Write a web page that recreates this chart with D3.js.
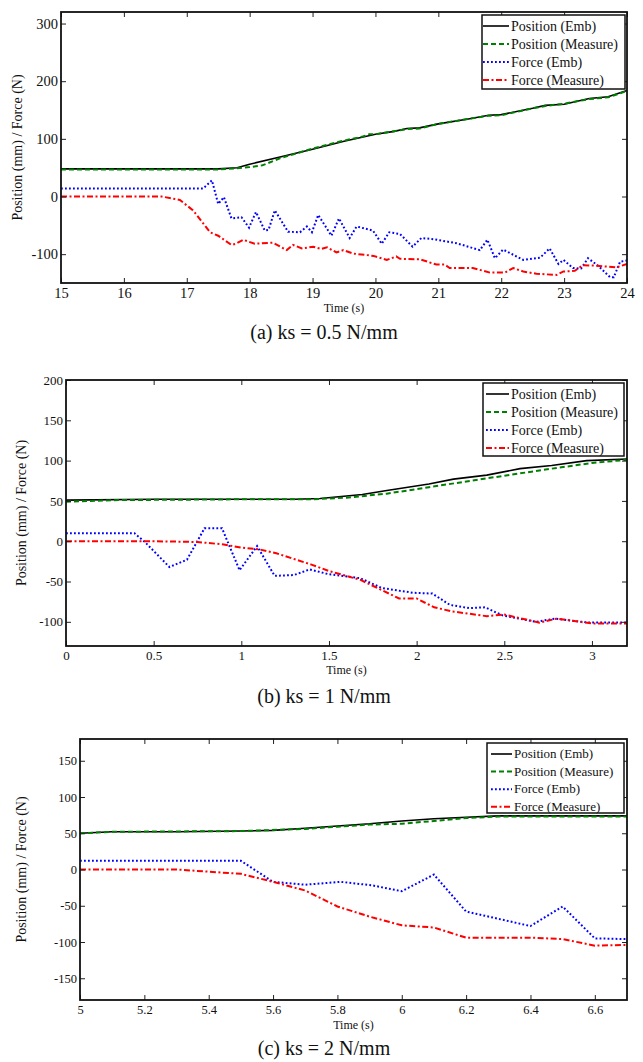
<!DOCTYPE html>
<html>
<head>
<meta charset="utf-8">
<script src="https://cdn.jsdelivr.net/npm/d3@7"></script>
<style>
    body { margin: 0; background: #fff; }
    text { font-family: "Liberation Serif", "DejaVu Serif", serif; fill: #111; }
</style>
</head>
<body>
<div id="chart"></div>
<script>
// (a) ks = 0.5 N/mm
let aPosEmb = [[15,48],[17.5,48],[17.8,50],[18,56],[18.5,69],[19,82],[19.5,96],[20,108],[20.3,113],[20.5,118],[20.7,119],[21,126],[21.5,135],[21.8,141],[22,142],[22.5,153],[22.7,158],[23,160],[23.4,170],[23.7,173],[24,184]];
let aPosMeas = [[15,47],[17.5,47],[17.8,49],[18,51],[18.2,54],[18.5,67],[19,83],[19.5,97],[19.8,104],[19.9,108],[20,108],[20.5,117],[20.7,118],[21,126],[21.5,135],[21.8,140],[22,141],[22.5,153],[22.7,157],[23,161],[23.4,169],[23.7,172],[24,183]];
let aForceEmb = [[15,14],[17.26,14],[17.4,28],[17.5,-13],[17.59,-1],[17.71,-38],[17.87,-36],[17.99,-54],[18.1,-27],[18.24,-59],[18.3,-58],[18.4,-24],[18.61,-61],[18.8,-62],[18.91,-52],[18.99,-62],[19.09,-32],[19.3,-68],[19.42,-38],[19.59,-72],[19.7,-52],[19.96,-59],[20.1,-82],[20.22,-62],[20.39,-65],[20.59,-87],[20.73,-72],[20.92,-74],[21.29,-81],[21.66,-93],[21.78,-75],[21.9,-107],[22.03,-92],[22.35,-110],[22.62,-106],[22.77,-90],[22.91,-117],[22.99,-110],[23.14,-124],[23.27,-125],[23.38,-107],[23.54,-120],[23.73,-140],[23.79,-140],[23.89,-113],[24,-111]];
let aForceMeas = [[15,0],[16.6,0],[16.89,-6],[17.1,-24],[17.37,-62],[17.5,-68],[17.71,-84],[17.78,-82],[17.9,-75],[18.08,-82],[18.37,-80],[18.59,-93],[18.69,-84],[18.83,-90],[19.01,-87],[19.14,-91],[19.23,-88],[19.38,-97],[19.49,-93],[19.65,-99],[19.97,-103],[20.18,-110],[20.33,-104],[20.39,-108],[20.71,-109],[20.97,-118],[21.1,-118],[21.18,-124],[21.55,-124],[21.82,-132],[22.06,-132],[22.19,-124],[22.35,-130],[22.56,-134],[22.88,-136],[22.99,-130],[23.17,-129],[23.3,-119],[23.51,-120],[23.83,-123],[24,-117]];
let aXTicks = [15,16,17,18,19,20,21,22,23,24];
let aYTicks = [300,200,100,0,-100];

// (b) ks = 1 N/mm
let bPosEmb = [[0,51],[0.5,52],[1,52],[1.3,52],[1.45,53],[1.69,58],[1.83,63],[2.07,71],[2.21,77],[2.4,82],[2.59,90],[2.77,94],[2.97,100],[3.2,102]];
let bPosMeas = [[0,49],[0.3,51],[1,52],[1.4,52],[1.6,54],[1.83,59],[2.07,67],[2.4,78],[2.77,90],[3,97],[3.2,101]];
let bForceEmb = [[0,10],[0.39,10],[0.45,-1],[0.59,-32],[0.69,-23],[0.79,16],[0.89,16],[0.99,-36],[1.09,-6],[1.19,-43],[1.3,-42],[1.39,-35],[1.5,-41],[1.68,-46],[1.8,-58],[1.98,-64],[2.09,-65],[2.19,-79],[2.3,-83],[2.39,-82],[2.49,-92],[2.68,-100],[2.79,-96],[2.98,-101],[3.2,-101]];
let bForceMeas = [[0,0],[0.5,0],[0.75,-1],[0.9,-4],[1,-8],[1.1,-10],[1.2,-15],[1.4,-29],[1.5,-37],[1.68,-48],[1.9,-71],[2,-71],[2.1,-82],[2.2,-87],[2.4,-93],[2.5,-91],[2.7,-101],[2.8,-96],[3,-102],[3.2,-102]];
let bXTicks = [0,0.5,1,1.5,2,2.5,3];
let bYTicks = [200,150,100,50,0,-50,-100];

// (c) ks = 2 N/mm
let cPosEmb = [[5,50],[5.1,52],[5.3,52],[5.5,53],[5.6,54],[5.7,57],[5.8,60],[5.9,63],[6,67],[6.1,70],[6.2,72],[6.3,74],[6.7,74]];
let cPosMeas = [[5,50],[5.1,52],[5.5,53],[5.7,56],[5.8,59],[5.9,62],[6,63],[6.1,67],[6.2,71],[6.3,73],[6.7,73]];
let cForceEmb = [[5,12],[5.5,12],[5.6,-17],[5.7,-21],[5.81,-17],[5.91,-22],[6,-30],[6.1,-7],[6.2,-58],[6.4,-78],[6.5,-51],[6.6,-95],[6.7,-96]];
let cForceMeas = [[5,0],[5.3,0],[5.5,-6],[5.6,-17],[5.7,-29],[5.8,-51],[5.9,-65],[6,-77],[6.1,-80],[6.2,-94],[6.4,-94],[6.5,-96],[6.6,-105],[6.7,-104]];
let cXTicks = [5,5.2,5.4,5.6,5.8,6,6.2,6.4,6.6];
let cYTicks = [150,100,50,0,-50,-100,-150];

let seriesNames = ["Position (Emb)", "Position (Measure)", "Force (Emb)", "Force (Measure)"];
let captions = ["(a) ks = 0.5 N/mm", "(b) ks = 1 N/mm", "(c) ks = 2 N/mm"];

let width = 643,
    height = 1062;

let styles = [
    { color: "#000000", dash: null, w: 1.6 },
    { color: "#008000", dash: "5,3", w: 2 },
    { color: "#0000ff", dash: "1.8,2.2", w: 2 },
    { color: "#ff0000", dash: "6,2.5,2,2.5", w: 2 }
];

let panels = [
    { series: [aPosEmb, aPosMeas, aForceEmb, aForceMeas], xTicks: aXTicks, yTicks: aYTicks,
      xDomain: [15, 24], yDomain: [-150, 320], left: 61, right: 627, top: 12, bottom: 283,
      fs: 14.5, legend: { x0: 482, x1: 625, y0: 15, y1: 89, line0: 483, line1: 509, text: 511, rows: 18, fs: 14 },
      timeY: 312, capY: 339, labelX: 22 },
    { series: [bPosEmb, bPosMeas, bForceEmb, bForceMeas], xTicks: bXTicks, yTicks: bYTicks,
      xDomain: [0, 3.2], yDomain: [-130, 200], left: 66, right: 627, top: 380, bottom: 646,
      fs: 13, legend: { x0: 483, x1: 624, y0: 383, y1: 456, line0: 486, line1: 509, text: 511, rows: 18, fs: 14 },
      timeY: 674, capY: 703, labelX: 26 },
    { series: [cPosEmb, cPosMeas, cForceEmb, cForceMeas], xTicks: cXTicks, yTicks: cYTicks,
      xDomain: [5, 6.7], yDomain: [-180, 180], left: 80, right: 627, top: 739, bottom: 1000,
      fs: 12.5, legend: { x0: 487, x1: 624, y0: 743, y1: 813, line0: 491, line1: 512, text: 514, rows: 17.6, fs: 13 },
      timeY: 1029, capY: 1055, labelX: 26 }
];

let svg = d3.select("#chart")
    .append("svg")
    .attr("width", width)
    .attr("height", height);

svg.append("rect").attr("width", width).attr("height", height).attr("fill", "#fff");

panels.forEach(function (p, i) {
    drawPanel(p, captions[i]);
});

function drawPanel(p, caption) {
    let x = d3.scaleLinear().domain(p.xDomain).range([p.left, p.right]);
    let y = d3.scaleLinear().domain(p.yDomain).range([p.bottom, p.top]);
    let fmt = function (d) { return String(d); };
    let g = svg.append("g");

    // lines
    let line = d3.line()
        .x(function (d) { return x(d[0]); })
        .y(function (d) { return y(d[1]); });

    p.series.forEach(function (s, k) {
        g.append("path")
            .datum(s)
            .attr("d", line)
            .attr("fill", "none")
            .attr("stroke", styles[k].color)
            .attr("stroke-width", styles[k].w)
            .attr("stroke-dasharray", styles[k].dash);
    });

    // axes, ticks inside on all four sides
    let bottomAxis = g.append("g")
        .attr("transform", "translate(0," + p.bottom + ")")
        .call(d3.axisBottom(x).tickValues(p.xTicks).tickSize(-5).tickPadding(5).tickFormat(fmt));
    let topAxis = g.append("g")
        .attr("transform", "translate(0," + p.top + ")")
        .call(d3.axisTop(x).tickValues(p.xTicks).tickSize(-5).tickFormat(""));
    let leftAxis = g.append("g")
        .attr("transform", "translate(" + p.left + ",0)")
        .call(d3.axisLeft(y).tickValues(p.yTicks).tickSize(-5).tickPadding(3).tickFormat(fmt));
    let rightAxis = g.append("g")
        .attr("transform", "translate(" + p.right + ",0)")
        .call(d3.axisRight(y).tickValues(p.yTicks).tickSize(-5).tickFormat(""));

    [bottomAxis, topAxis, leftAxis, rightAxis].forEach(function (a) {
        a.select(".domain").remove();
        a.selectAll(".tick line").attr("stroke", "#222").attr("stroke-width", 1);
        a.selectAll(".tick text")
            .style("font-family", "Liberation Serif, serif")
            .style("font-size", p.fs + "px")
            .attr("fill", "#111");
    });

    g.append("rect")
        .attr("x", p.left)
        .attr("y", p.top)
        .attr("width", p.right - p.left)
        .attr("height", p.bottom - p.top)
        .attr("fill", "none")
        .attr("stroke", "#111")
        .attr("stroke-width", 1.8);

    // legend
    let L = p.legend;
    g.append("rect")
        .attr("x", L.x0)
        .attr("y", L.y0)
        .attr("width", L.x1 - L.x0)
        .attr("height", L.y1 - L.y0)
        .attr("fill", "#fff")
        .attr("stroke", "#111")
        .attr("stroke-width", 1.5);

    seriesNames.forEach(function (name, k) {
        let ry = L.y0 + 11 + k * L.rows;
        g.append("line")
            .attr("x1", L.line0).attr("x2", L.line1)
            .attr("y1", ry).attr("y2", ry)
            .attr("stroke", styles[k].color)
            .attr("stroke-width", styles[k].w)
            .attr("stroke-dasharray", styles[k].dash);
        g.append("text")
            .attr("x", L.text)
            .attr("y", ry)
            .attr("dy", "0.33em")
            .style("font-size", L.fs + "px")
            .text(name);
    });

    // axis titles
    g.append("text")
        .attr("x", (p.left + p.right) / 2)
        .attr("y", p.timeY)
        .attr("text-anchor", "middle")
        .style("font-size", "12px")
        .text("Time (s)");

    g.append("text")
        .attr("transform", "translate(" + p.labelX + "," + (p.top + p.bottom) / 2 + ") rotate(-90)")
        .attr("text-anchor", "middle")
        .style("font-size", "14px")
        .text("Position (mm) / Force (N)");

    g.append("text")
        .attr("x", 324)
        .attr("y", p.capY)
        .attr("text-anchor", "middle")
        .style("font-size", "20px")
        .text(caption);
}
</script>
</body>
</html>
